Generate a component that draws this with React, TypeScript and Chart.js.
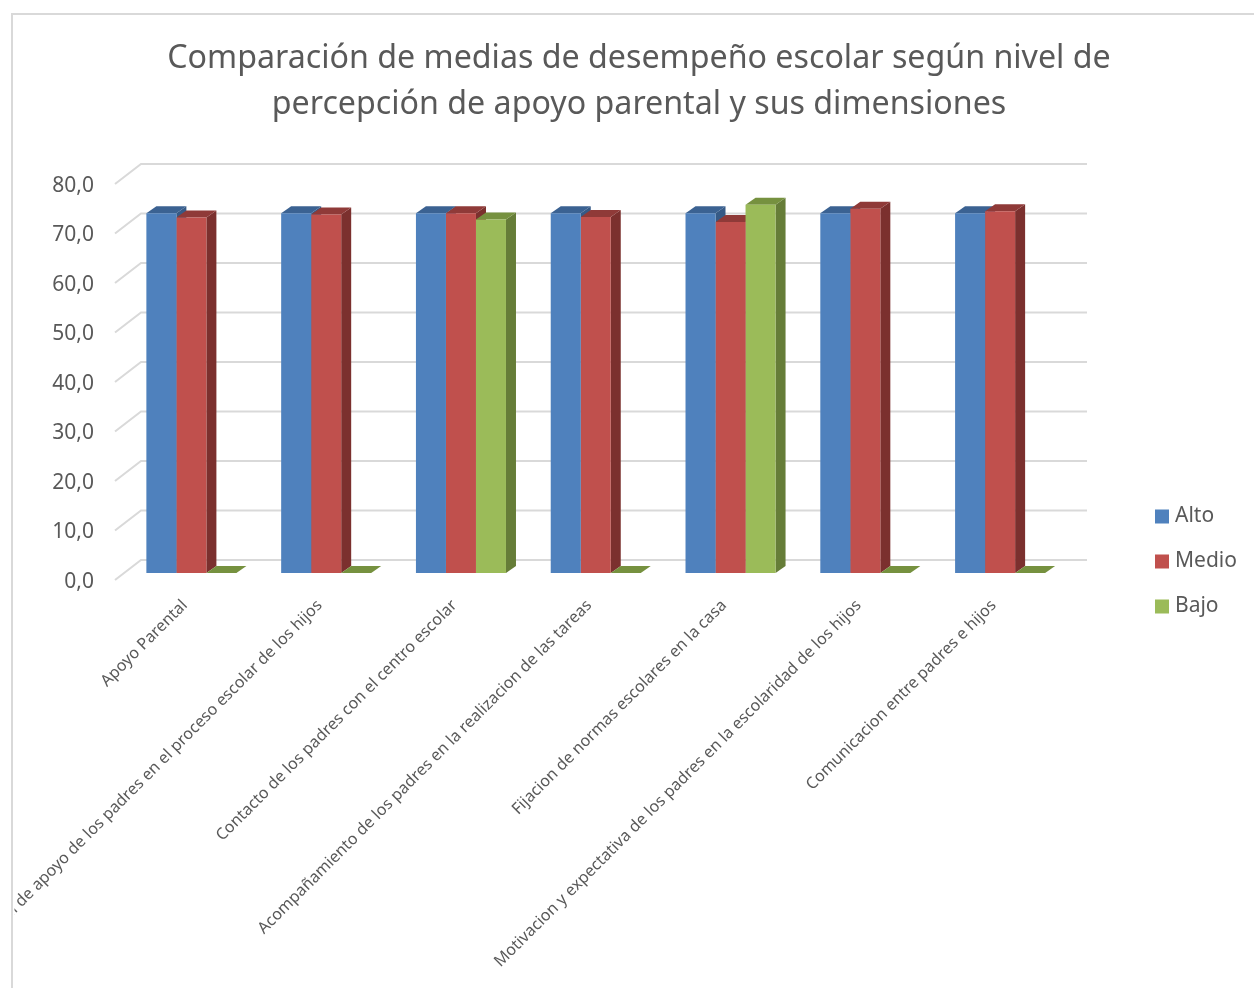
import React, { useEffect, useRef } from "react";
import { Chart, registerables } from "chart.js";

Chart.register(...registerables);

const categories = [
  "Apoyo Parental",
  "Nivel de apoyo de los padres en el proceso escolar de los hijos",
  "Contacto de los padres con el centro escolar",
  "Acompañamiento de los padres en la realizacion de las tareas",
  "Fijacion de normas escolares en la casa",
  "Motivacion y expectativa de los padres en la escolaridad de los hijos",
  "Comunicacion entre padres e hijos",
];
const alto = [72.7, 72.7, 72.7, 72.7, 72.7, 72.7, 72.7];
const medio = [71.8, 72.4, 72.7, 71.9, 70.9, 73.6, 73.1];
const bajo = [0, 0, 71.4, 0, 74.4, 0, 0];

const titleLines = [
  "Comparación de medias de desempeño escolar según nivel de",
  "percepción de apoyo parental y sus dimensiones",
];

const FONT = '"Noto Sans", sans-serif';
const TEXT = "#595959";
const GRID = "#d9d9d9";
const FRONT = ["#4f81bd", "#c0504d", "#9bbb59"];
const TOP = ["#3b6292", "#8f3a38", "#76913f"];
const SIDE = ["#365a86", "#7b302e", "#667d38"];

// bars stand between the front and back of the 3D floor
const BAR_DX = 9;
const BAR_DY = -7;
const DEPTH_X = 10;
const DEPTH_Y = -7;
const WALL_DX = 26;
const WALL_DY = -20;
const WALL_EXTRA = 2.5;

function shiftLabels(s: any, dx: number, dy: number) {
  if (s.__shifted) return;
  s.__shifted = true;
  const draw = s.drawLabels;
  s.drawLabels = function (area: any) {
    const ctx = s.ctx;
    ctx.save();
    ctx.translate(dx, dy);
    draw.call(s, area);
    ctx.restore();
  };
}

const threeD = {
  id: "threeD",
  beforeDraw(chart: any) {
    const l = chart.legend;
    l.left = 1123.5;
    l.right = 1254;
    l.top = 468;
    l.bottom = 800;
    const t = chart.titleBlock;
    t.left = 0;
    t.right = 1254;
    t.width = 1254;
  },
  beforeDatasetsDraw(chart: any) {
    const { ctx, chartArea: a, scales } = chart;
    const y = scales.y;
    ctx.save();
    ctx.strokeStyle = GRID;
    ctx.lineWidth = 2;
    y.ticks.forEach((t: any) => {
      const py = y.getPixelForValue(t.value);
      ctx.beginPath();
      ctx.moveTo(a.left, py);
      ctx.lineTo(a.left + WALL_DX, py + WALL_DY);
      ctx.lineTo(a.right + WALL_DX + WALL_EXTRA, py + WALL_DY);
      ctx.stroke();
    });
    ctx.translate(BAR_DX, BAR_DY);
    chart.data.datasets.forEach((_: any, i: number) => {
      chart.getDatasetMeta(i).data.forEach((el: any) => {
        const p = el.getProps(["x", "y", "base", "width"], true);
        const l = p.x - p.width / 2;
        const r = p.x + p.width / 2;
        ctx.fillStyle = SIDE[i];
        ctx.beginPath();
        ctx.moveTo(r, p.y);
        ctx.lineTo(r + DEPTH_X, p.y + DEPTH_Y);
        ctx.lineTo(r + DEPTH_X, p.base + DEPTH_Y);
        ctx.lineTo(r, p.base);
        ctx.closePath();
        ctx.fill();
        ctx.fillStyle = TOP[i];
        ctx.beginPath();
        ctx.moveTo(l, p.y);
        ctx.lineTo(l + DEPTH_X, p.y + DEPTH_Y);
        ctx.lineTo(r + DEPTH_X, p.y + DEPTH_Y);
        ctx.lineTo(r, p.y);
        ctx.closePath();
        ctx.fill();
      });
    });
    ctx.restore();
  },
  beforeDatasetDraw(chart: any) {
    chart.ctx.save();
    chart.ctx.translate(BAR_DX, BAR_DY);
  },
  afterDatasetDraw(chart: any) {
    chart.ctx.restore();
  },
};

export default function App() {
  const ref = useRef<HTMLCanvasElement | null>(null);
  useEffect(() => {
    const chart = new Chart(ref.current as HTMLCanvasElement, {
      type: "bar",
      data: {
        labels: categories,
        datasets: [
          { label: "Alto", data: alto, backgroundColor: FRONT[0], clip: false },
          { label: "Medio", data: medio, backgroundColor: FRONT[1], clip: false },
          { label: "Bajo", data: bajo, backgroundColor: FRONT[2], clip: false },
        ] as any,
      },
      plugins: [threeD as any],
      options: {
        animation: false,
        responsive: false,
        devicePixelRatio: 1,
        layout: { padding: { left: 0, right: 207.5, top: 0, bottom: 0 } },
        datasets: { bar: { categoryPercentage: 0.668, barPercentage: 1, borderWidth: 0 } },
        scales: {
          x: {
            grid: { display: false },
            border: { display: false },
            afterFit(s: any) {
              s.height = 408;
              s.paddingLeft = 0;
              s.paddingRight = 0;
              shiftLabels(s, 2.5, 0);
            },
            ticks: {
              autoSkip: false,
              minRotation: 45,
              maxRotation: 45,
              padding: 8,
              color: TEXT,
              font: { family: FONT, size: 16.1 },
            },
          },
          y: {
            min: 0,
            max: 80,
            grid: { display: false },
            border: { display: false },
            afterFit(s: any) {
              s.width = 103;
              shiftLabels(s, 0, 2);
            },
            ticks: {
              stepSize: 10,
              padding: 13,
              color: TEXT,
              font: { family: FONT, size: 21 },
              callback: (v: any) => Number(v).toFixed(1).replace(".", ","),
            },
          },
        },
        plugins: {
          title: {
            display: true,
            text: titleLines,
            color: TEXT,
            font: { family: FONT, size: 32.2, weight: "normal", lineHeight: 46 / 32.2 },
            padding: { top: 22, bottom: 56 },
          },
          legend: {
            position: "chartArea",
            align: "start",
            labels: {
              usePointStyle: true,
              pointStyle: "rect",
              boxWidth: 5,
              boxHeight: 14,
              padding: 24,
              color: TEXT,
              font: { family: FONT, size: 21 },
            },
          },
          tooltip: { enabled: false },
        },
      } as any,
    });
    return () => chart.destroy();
  }, []);

  return (
    <div style={{ position: "fixed", inset: 0, overflow: "hidden", background: "#fff" }}>
      <div
        style={{
          position: "absolute",
          left: 11,
          top: 13,
          right: -20,
          bottom: -20,
          borderLeft: "2px solid #d9d9d9",
          borderTop: "2px solid #d9d9d9",
        }}
      />
      <canvas
        ref={ref}
        width={1254}
        height={974}
        style={{ position: "absolute", left: 12, top: 14, width: 1254, height: 974 }}
      />
    </div>
  );
}
